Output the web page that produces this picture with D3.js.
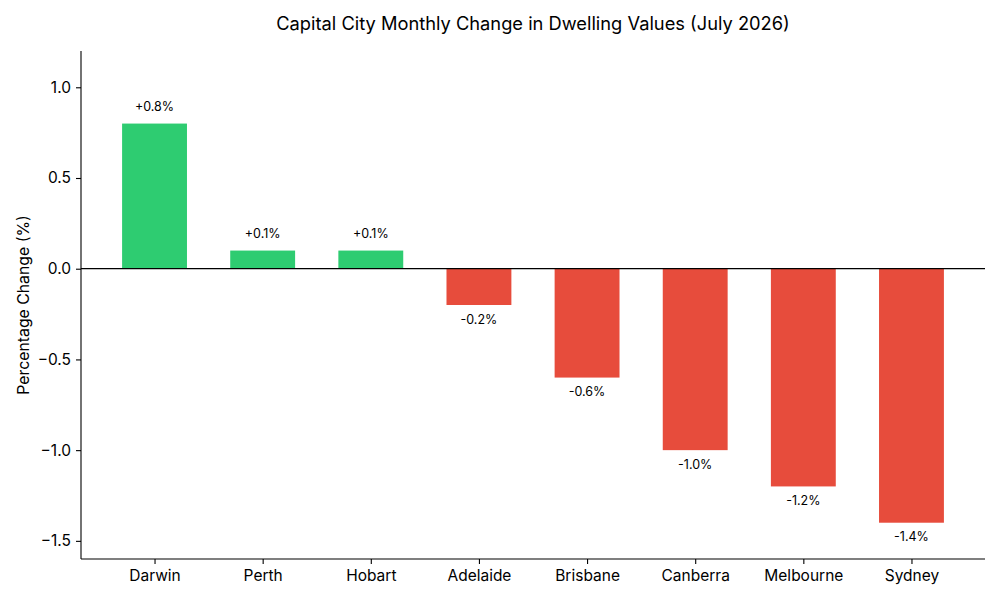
<!DOCTYPE html>
<html>
<head>
<meta charset="utf-8">
<script src="https://cdn.jsdelivr.net/npm/d3@7"></script>
<style>
  body { margin: 0; background: #fff; }
  svg { display: block; font-family: "Inter", "DejaVu Sans", sans-serif; }
</style>
</head>
<body>
<div id="chart"></div>
<script>
// data
var cities = ["Darwin", "Perth", "Hobart", "Adelaide", "Brisbane", "Canberra", "Melbourne", "Sydney"];
var changes = [0.8, 0.1, 0.1, -0.2, -0.6, -1.0, -1.2, -1.4];
var yTicks = [1.0, 0.5, 0.0, -0.5, -1.0, -1.5];

var width = 1000, height = 600;
var plot = {left: 81, right: 985, top: 51, bottom: 559};
var green = "#2ecc71", red = "#e74c3c";
var barWidth = 0.6, labelOffset = 0.05;

var svg = d3.select("#chart").append("svg")
    .attr("width", width)
    .attr("height", height);

// matplotlib style x: bar index with 5% margins
var x = d3.scaleLinear()
    .domain([-0.68, cities.length - 1 + 0.68])
    .range([plot.left, plot.right]);
var y = d3.scaleLinear()
    .domain([-1.6, 1.2])
    .range([plot.bottom, plot.top]);

svg.append("g").selectAll("rect")
    .data(changes)
    .enter()
    .append("rect")
    .attr("x", function (d, i) { return x(i - barWidth / 2); })
    .attr("width", function (d, i) { return x(i + barWidth / 2) - x(i - barWidth / 2); })
    .attr("y", function (d) { return y(Math.max(0, d)); })
    .attr("height", function (d) { return Math.abs(y(d) - y(0)); })
    .attr("fill", function (d) { return d >= 0 ? green : red; });

// zero line
svg.append("line")
    .attr("x1", plot.left).attr("x2", plot.right)
    .attr("y1", y(0)).attr("y2", y(0))
    .attr("stroke", "#000").attr("stroke-width", 1.2);

// value labels
svg.append("g").selectAll("text")
    .data(changes)
    .enter()
    .append("text")
    .attr("x", function (d, i) { return x(i); })
    .attr("y", function (d) {
        return d >= 0 ? y(d + labelOffset) - 3.6 : y(d - labelOffset) + 9.5;
    })
    .attr("text-anchor", "middle")
    .attr("font-size", "12.5px")
    .attr("fill", "#000")
    .text(function (d) { return (d >= 0 ? "+" : "-") + Math.abs(d).toFixed(1) + "%"; });

// axes
var yAxis = d3.axisLeft(y)
    .tickValues(yTicks)
    .tickSize(5)
    .tickPadding(5)
    .tickFormat(function (d) { return d3.format(".1f")(d).replace("-", "\u2212"); });
var gy = svg.append("g")
    .attr("transform", "translate(" + plot.left + ",0)")
    .call(yAxis);

var xAxis = d3.axisBottom(x)
    .tickValues(d3.range(cities.length))
    .tickSize(5)
    .tickPadding(6)
    .tickFormat(function (d) { return cities[d]; });
var gx = svg.append("g")
    .attr("transform", "translate(0," + plot.bottom + ")")
    .call(xAxis);

[gx, gy].forEach(function (g) {
    g.select(".domain").attr("stroke", "#000").attr("stroke-width", 1.1);
    g.selectAll(".tick line").attr("stroke", "#000").attr("stroke-width", 1.1);
    g.selectAll(".tick text")
        .attr("fill", "#000")
        .attr("font-size", "15.5px")
        .attr("font-family", "Inter, sans-serif");
});
// remove the outer tick ends of the domain paths (matplotlib spines)
gy.select(".domain").attr("d", "M0," + plot.top + "V" + plot.bottom);
gx.select(".domain").attr("d", "M" + plot.left + ",0H" + plot.right);

// y label
svg.append("text")
    .attr("transform", "translate(29," + ((plot.top + plot.bottom) / 2) + ") rotate(-90)")
    .attr("text-anchor", "middle")
    .attr("font-size", "15.8px")
    .attr("fill", "#000")
    .text("Percentage Change (%)");

// title
svg.append("text")
    .attr("x", (plot.left + plot.right) / 2)
    .attr("y", 30)
    .attr("text-anchor", "middle")
    .attr("font-size", "18.3px")
    .attr("fill", "#000")
    .text("Capital City Monthly Change in Dwelling Values (July 2026)");
</script>
</body>
</html>
